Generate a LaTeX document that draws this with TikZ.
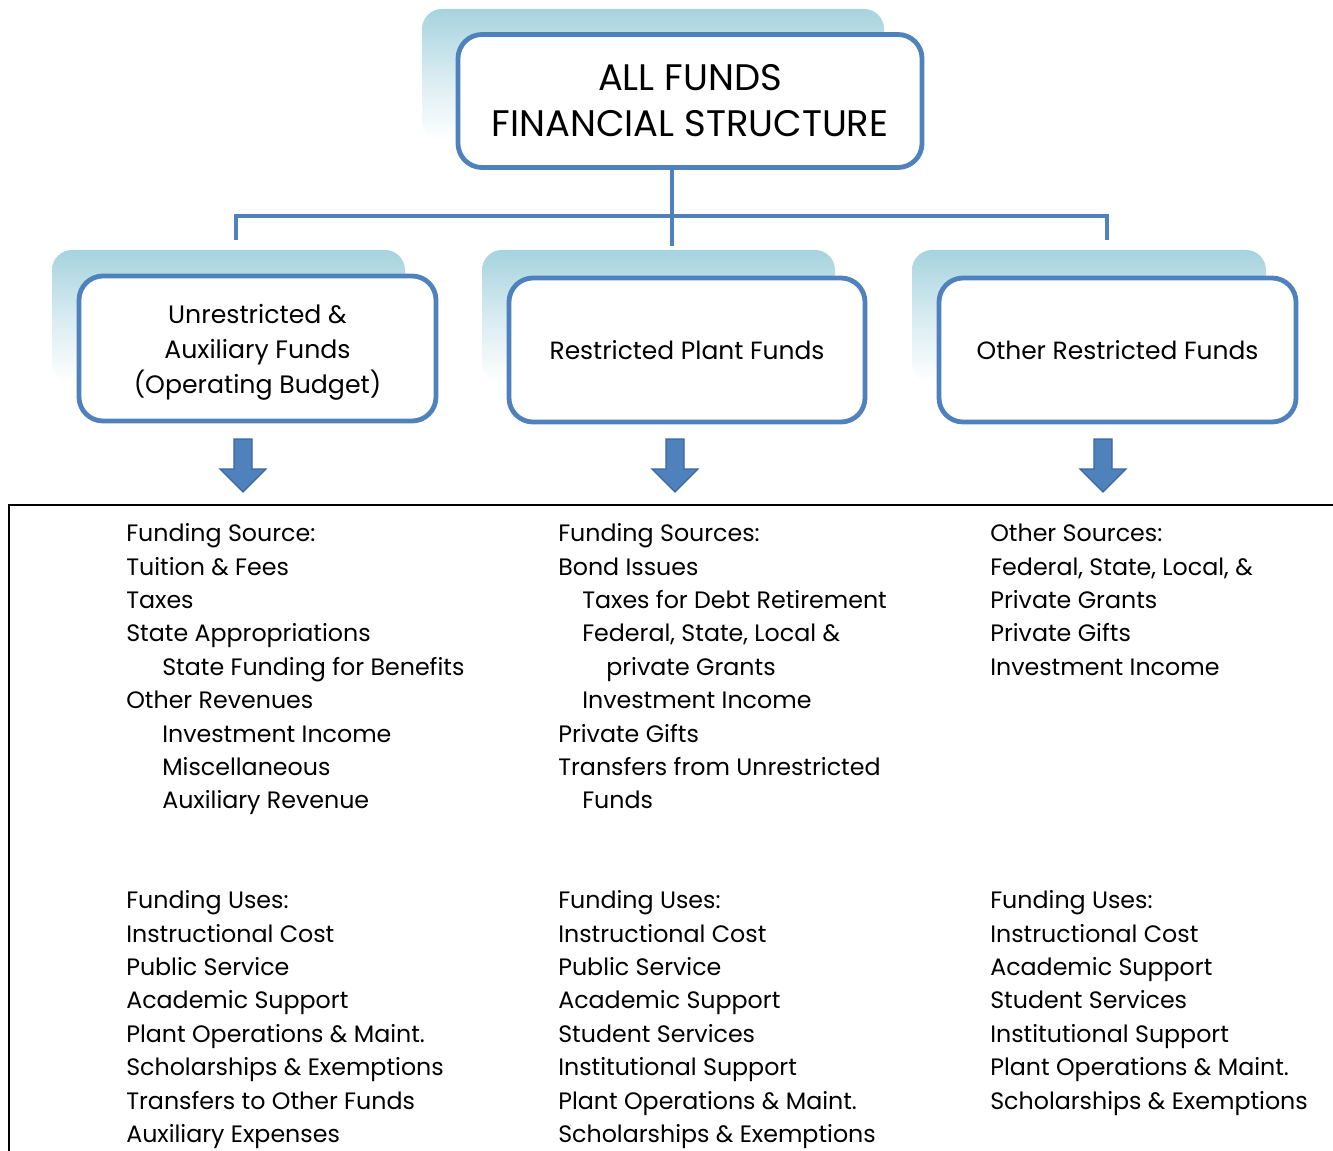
\documentclass[tikz,border=0pt]{standalone}
\usepackage{fontspec}
\setmainfont{Poppins}
\definecolor{boxblue}{HTML}{4F81BD}
\definecolor{arrowedge}{HTML}{3A679E}
\definecolor{shadeblue}{HTML}{A6D3DF}
\begin{document}
\begin{tikzpicture}[x=0.75pt,y=-0.75pt,
  backshape/.style={top color=shadeblue, bottom color=white, middle color=shadeblue!45, rounded corners=15pt, draw=none},
  fundbox/.style={draw=boxblue, line width=3.6pt, fill=white, rounded corners=18pt, align=center, inner sep=0pt},
  conn/.style={draw=boxblue, line width=3pt},
  blockarrow/.style={fill=boxblue, draw=arrowedge, line width=1pt, line join=miter},
  txt/.style={anchor=base west, inner sep=0pt, font=\fontsize{17.8}{20}\selectfont},
  frame/.style={draw=black, line width=1.5pt}]
\useasboundingbox (0,0) rectangle (1333,1151);
% background shapes
\path[backshape] (422,9) rectangle (884,140);
\path[backshape] (52,250) rectangle (405,383);
\path[backshape] (482,250) rectangle (835,383);
\path[backshape] (912,250) rectangle (1266,383);
% connectors
\coordinate (hl) at (236,216);
\coordinate (hr) at (1107,216);
\coordinate (dl) at (236,240);
\coordinate (dr) at (1107,240);
\coordinate (dm) at (672,246);
% boxes
\node[fundbox, minimum width=464*0.75pt, minimum height=133*0.75pt, font=\fontsize{27.7}{34.5}\selectfont] (top) at (690,101) {ALL FUNDS\\FINANCIAL STRUCTURE};
\draw[conn] (top.south -| dm) -- (dm);
\draw[conn] (dl) -- (hl) -- (hr) -- (dr);
\node[fundbox, minimum width=357*0.75pt, minimum height=145*0.75pt, font=\fontsize{18.9}{26.25}\selectfont] (b1) at (257.5,348.5) {\rule{0pt}{20pt}Unrestricted \&\\Auxiliary Funds\\(Operating Budget)};
\node[fundbox, minimum width=356*0.75pt, minimum height=144*0.75pt, font=\fontsize{18.7}{26.25}\selectfont] (b2) at (687,350) {Restricted Plant Funds};
\node[fundbox, minimum width=357*0.75pt, minimum height=144*0.75pt, font=\fontsize{18.7}{26.25}\selectfont] (b3) at (1117.5,350) {Other Restricted Funds};
% block arrows
\foreach \ax/\nm in {243/a1, 675/a2, 1103/a3}{
  \draw[blockarrow] (\ax-9,439) -- (\ax+9,439) -- (\ax+9,469) -- (\ax+23,469) -- (\ax,492) -- (\ax-23,469) -- (\ax-9,469) -- cycle;
}
% frame
\coordinate (fc) at (9,505);
\coordinate (fr) at (1333,505);
\coordinate (fb) at (9,1151);
\draw[frame] (fr) -- (fc) -- (fb);
% left column
\node[txt] (l1) at (126,541) {Funding Source:};
\node[txt] (l2) at (126,575) {Tuition \& Fees};
\node[txt] (l3) at (126,608) {Taxes};
\node[txt] (l4) at (126,641) {State Appropriations};
\node[txt] (l5) at (162,675) {State Funding for Benefits};
\node[txt] (l6) at (126,708) {Other Revenues};
\node[txt] (l7) at (162,742) {Investment Income};
\node[txt] (l8) at (162,775) {Miscellaneous};
\node[txt] (l9) at (162,808) {Auxiliary Revenue};
\node[txt] (lu1) at (126,908) {Funding Uses:};
\node[txt] (lu2) at (126,942) {Instructional Cost};
\node[txt] (lu3) at (126,975) {Public Service};
\node[txt] (lu4) at (126,1008) {Academic Support};
\node[txt] (lu5) at (126,1042) {Plant Operations \& Maint.};
\node[txt] (lu6) at (126,1075) {Scholarships \& Exemptions};
\node[txt] (lu7) at (126,1109) {Transfers to Other Funds};
\node[txt] (lu8) at (126,1142) {Auxiliary Expenses};
% middle column
\node[txt] (m1) at (558,541) {Funding Sources:};
\node[txt] (m2) at (558,575) {Bond Issues};
\node[txt] (m3) at (582,608) {Taxes for Debt Retirement};
\node[txt] (m4) at (582,641) {Federal, State, Local \&};
\node[txt] (m5) at (606,675) {private Grants};
\node[txt] (m6) at (582,708) {Investment Income};
\node[txt] (m7) at (558,742) {Private Gifts};
\node[txt] (m8) at (558,775) {Transfers from Unrestricted};
\node[txt] (m9) at (582,808) {Funds};
\node[txt] (mu1) at (558,908) {Funding Uses:};
\node[txt] (mu2) at (558,942) {Instructional Cost};
\node[txt] (mu3) at (558,975) {Public Service};
\node[txt] (mu4) at (558,1008) {Academic Support};
\node[txt] (mu5) at (558,1042) {Student Services};
\node[txt] (mu6) at (558,1075) {Institutional Support};
\node[txt] (mu7) at (558,1109) {Plant Operations \& Maint.};
\node[txt] (mu8) at (558,1142) {Scholarships \& Exemptions};
% right column
\node[txt] (r1) at (990,541) {Other Sources:};
\node[txt] (r2) at (990,575) {Federal, State, Local, \&};
\node[txt] (r3) at (990,608) {Private Grants};
\node[txt] (r4) at (990,641) {Private Gifts};
\node[txt] (r5) at (990,675) {Investment Income};
\node[txt] (ru1) at (990,908) {Funding Uses:};
\node[txt] (ru2) at (990,942) {Instructional Cost};
\node[txt] (ru3) at (990,975) {Academic Support};
\node[txt] (ru4) at (990,1008) {Student Services};
\node[txt] (ru5) at (990,1042) {Institutional Support};
\node[txt] (ru6) at (990,1075) {Plant Operations \& Maint.};
\node[txt] (ru7) at (990,1109) {Scholarships \& Exemptions};
\end{tikzpicture}
\end{document}
